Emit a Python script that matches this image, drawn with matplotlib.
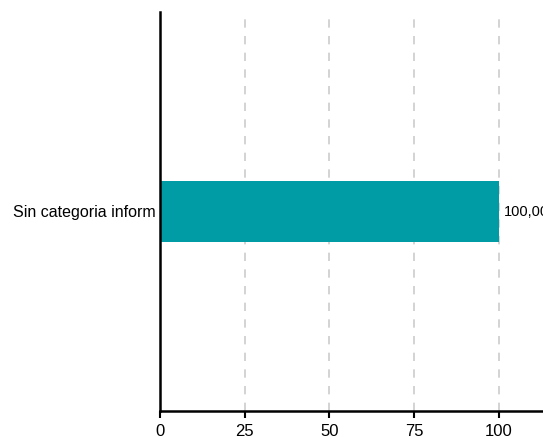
import matplotlib
matplotlib.use("Agg")
import matplotlib.pyplot as plt

categories = ["Sin categoria inform"]
values = [100.0]
value_labels = ["100,00"]
xticks = [0, 25, 50, 75, 100]

plt.rcParams['font.family'] = ['Liberation Sans', 'DejaVu Sans']

fig = plt.figure(figsize=(5.43, 4.37), dpi=100)
ax = fig.add_axes([160/543, 26/437, 383/543, 399/437])

ax.barh(categories, values, height=0.153, color="#009ca6", zorder=2)
ax.set_ylim(-0.5, 0.5)
ax.set_xlim(0, 113)
ax.set_xticks(xticks)
ax.set_xticklabels([str(t) for t in xticks], fontsize=12)
ax.tick_params(axis='x', length=5, width=1.5, color='black', pad=4)
ax.tick_params(axis='y', length=0, labelsize=11.5, pad=3)

for s in ['top', 'right']:
    ax.spines[s].set_visible(False)
ax.spines['left'].set_linewidth(1.8)
ax.spines['bottom'].set_linewidth(1.8)

ax.set_axisbelow(True)
ax.grid(axis='x', linestyle=(0, (5, 5)), color='#cccccc', linewidth=1.2, zorder=1)
ax.grid(axis='y', visible=False)

for i, (v, lab) in enumerate(zip(values, value_labels)):
    ax.text(v + 1.5, i, lab, va='center', ha='left', fontsize=10.5, clip_on=False)

fig.savefig("out.png", dpi=100)
